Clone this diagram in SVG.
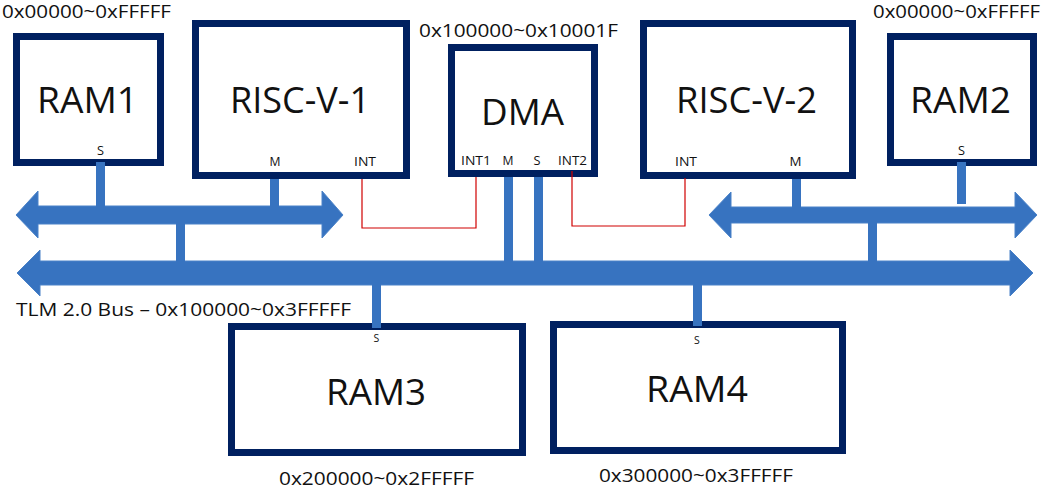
<svg xmlns="http://www.w3.org/2000/svg" width="1046" height="489" viewBox="0 0 1046 489">
<style>
.box{fill:#ffffff;stroke:#002060;stroke-width:7}
.big{font-family:"Open Sans",Lato,"Liberation Sans",sans-serif;font-size:36px;fill:#111111;text-anchor:middle}
.addr{font-family:"Open Sans",Lato,"Liberation Sans",sans-serif;font-size:19px;fill:#111111}
.port{font-family:"Open Sans",Lato,"Liberation Sans",sans-serif;font-size:13.5px;fill:#111111;text-anchor:middle}
.bus{fill:#3773c0;stroke:#4a82c8;stroke-width:1}
.stub{fill:#3773c0}
.irq{fill:none;stroke:#d00000;stroke-width:1.2}
</style>
<rect width="1046" height="489" fill="#ffffff"/>
<g id="ram1">
<rect class="box" x="16.5" y="36.5" width="144" height="126"/>
<text class="big" x="87.5" y="113" textLength="101" lengthAdjust="spacingAndGlyphs">RAM1</text>
<text class="port" x="100.5" y="155" textLength="7" lengthAdjust="spacingAndGlyphs">S</text>
<text class="addr" x="2" y="18" textLength="169" lengthAdjust="spacingAndGlyphs">0x00000~0xFFFFF</text>
</g>
<g id="riscv1">
<rect class="box" x="195.5" y="23.5" width="211" height="152"/>
<text class="big" x="300" y="113" textLength="140" lengthAdjust="spacingAndGlyphs">RISC-V-1</text>
<text class="port" x="275" y="166" textLength="11" lengthAdjust="spacingAndGlyphs">M</text>
<text class="port" x="365" y="166" textLength="22" lengthAdjust="spacingAndGlyphs">INT</text>
</g>
<g id="dma">
<rect class="box" x="451.5" y="47.5" width="143" height="126"/>
<text class="big" x="522.5" y="125" textLength="83" lengthAdjust="spacingAndGlyphs">DMA</text>
<text class="port" x="476" y="165" textLength="30" lengthAdjust="spacingAndGlyphs">INT1</text>
<text class="port" x="508" y="165" textLength="11" lengthAdjust="spacingAndGlyphs">M</text>
<text class="port" x="537" y="165" textLength="7" lengthAdjust="spacingAndGlyphs">S</text>
<text class="port" x="572.5" y="165" textLength="29" lengthAdjust="spacingAndGlyphs">INT2</text>
<text class="addr" x="419" y="37" textLength="199" lengthAdjust="spacingAndGlyphs">0x100000~0x10001F</text>
</g>
<g id="riscv2">
<rect class="box" x="643.5" y="23.5" width="209" height="152"/>
<text class="big" x="746.5" y="113" textLength="141" lengthAdjust="spacingAndGlyphs">RISC-V-2</text>
<text class="port" x="686" y="166" textLength="22" lengthAdjust="spacingAndGlyphs">INT</text>
<text class="port" x="795.5" y="166" textLength="12" lengthAdjust="spacingAndGlyphs">M</text>
</g>
<g id="ram2">
<rect class="box" x="890.5" y="36.5" width="143" height="126"/>
<text class="big" x="960.5" y="113" textLength="101" lengthAdjust="spacingAndGlyphs">RAM2</text>
<text class="port" x="961.5" y="155" textLength="7" lengthAdjust="spacingAndGlyphs">S</text>
<text class="addr" x="873" y="18" textLength="167" lengthAdjust="spacingAndGlyphs">0x00000~0xFFFFF</text>
</g>
<g id="ram3">
<rect class="box" x="231.5" y="326.5" width="291" height="126"/>
<text class="big" x="376" y="405" textLength="100" lengthAdjust="spacingAndGlyphs">RAM3</text>
<text class="port" x="376.5" y="342" style="font-size:10.5px">S</text>
<text class="addr" x="279" y="485" textLength="195" lengthAdjust="spacingAndGlyphs">0x200000~0x2FFFFF</text>
</g>
<g id="ram4">
<rect class="box" x="553.5" y="324.5" width="289" height="126"/>
<text class="big" x="697" y="402" textLength="102" lengthAdjust="spacingAndGlyphs">RAM4</text>
<text class="port" x="697" y="344" style="font-size:10.5px">S</text>
<text class="addr" x="599" y="482" textLength="194" lengthAdjust="spacingAndGlyphs">0x300000~0x3FFFFF</text>
</g>
<g id="bus-label">
<text class="addr" x="16" y="316" textLength="335" lengthAdjust="spacingAndGlyphs">TLM 2.0 Bus – 0x100000~0x3FFFFF</text>
</g>
<g id="connectors">
<polygon class="bus" points="17,273 40,250 40,261 1010,261 1010,250 1033,273 1010,296 1010,285 40,285 40,296"/>
<polygon class="bus" points="16,215 38,191 38,206 322,206 322,191 343,215 322,238 322,224 38,224 38,238"/>
<polygon class="bus" points="709,215 731,192 731,207 1015,207 1015,192 1037,215 1015,238 1015,223 731,223 731,238"/>
<rect class="stub" x="96" y="162" width="9" height="45"/>
<rect class="stub" x="270" y="179" width="9" height="28"/>
<rect class="stub" x="176" y="223" width="9" height="39"/>
<rect class="stub" x="504" y="177" width="9" height="85"/>
<rect class="stub" x="534" y="177" width="9" height="85"/>
<rect class="stub" x="372" y="284" width="9" height="44"/>
<rect class="stub" x="693" y="284" width="9" height="42"/>
<rect class="stub" x="868" y="222" width="9" height="40"/>
<rect class="stub" x="792" y="179" width="9" height="29"/>
<rect class="stub" x="957" y="162" width="9" height="42"/>
<polyline class="irq" points="362,179 362,228 476,228 476,177"/>
<polyline class="irq" points="572,171 572,226 685,226 685,178"/>
</g>
</svg>
